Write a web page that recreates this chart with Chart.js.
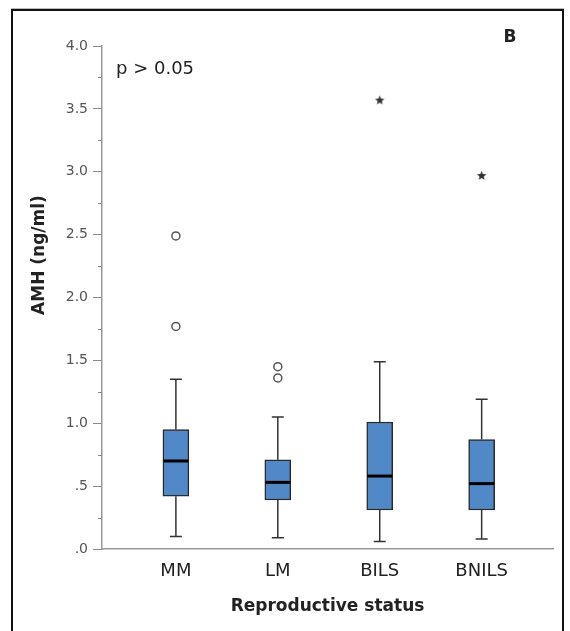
<!DOCTYPE html>
<html>
<head>
<meta charset="utf-8">
<script src="https://cdn.jsdelivr.net/npm/chart.js@4"></script>
<style>
  html, body { margin: 0; padding: 0; background: #fff; }
  #wrap { position: relative; width: 570px; height: 631px; overflow: hidden; }
  #frame {
    position: absolute; left: 11px; top: 9px; width: 549px; height: 660px;
    border: 2px solid #111; border-bottom: none;
    box-shadow: 0 -1px 0 #bbb;
    pointer-events: none;
  }
  canvas { position: absolute; left: 0; top: 0; }
</style>
</head>
<body>
<div id="wrap">
  <canvas id="chart" width="570" height="631"></canvas>
  <div id="frame"></div>
</div>
<script>
// AMH по группам репродуктивного статуса (ящики с усами)
const categories = ['MM', 'LM', 'BILS', 'BNILS'];
const q1 = [0.42, 0.39, 0.31, 0.31];
const medians = [0.70, 0.53, 0.58, 0.52];
const q3 = [0.95, 0.71, 1.01, 0.87];
const whiskerLow = [0.10, 0.09, 0.06, 0.08];
const whiskerHigh = [1.35, 1.05, 1.49, 1.19];
// выбросы (кружки) и крайние значения (звёздочки)
const outlierGroup = [1, 1, 2, 2];
const outlierValues = [2.49, 1.77, 1.45, 1.36];
const extremeGroup = [3, 4];
const extremeValues = [3.57, 2.97];
const yTickValues = [0, 0.5, 1, 1.5, 2, 2.5, 3, 3.5, 4];

const FONT = '"DejaVu Sans", "Open Sans", sans-serif';

// маленькая звёздочка для крайних значений
function makeStar() {
    const c = document.createElement('canvas');
    c.width = 11; c.height = 11;
    const g = c.getContext('2d');
    g.fillStyle = '#333';
    g.beginPath();
    for (let i = 0; i < 10; i++) {
        const r = i % 2 === 0 ? 5 : 2.2;
        const a = -Math.PI / 2 + i * Math.PI / 5;
        const px = 5.5 + r * Math.cos(a), py = 5.8 + r * Math.sin(a);
        if (i === 0) g.moveTo(px, py); else g.lineTo(px, py);
    }
    g.closePath();
    g.fill();
    return c;
}

function fmtTick(v) {
    if (v === 0) return '.0';
    if (v < 1) return '.5';
    return v.toFixed(1);
}

// усы, медианы, малые деления и подписи
const boxPlugin = {
    id: 'boxExtras',
    beforeDatasetsDraw(chart) {
        const { ctx, scales: { x, y } } = chart;
        ctx.save();
        ctx.strokeStyle = '#333';
        ctx.lineWidth = 1.5;
        categories.forEach((c, i) => {
            const cx = x.getPixelForValue(i + 1);
            const cap = 6;
            ctx.beginPath();
            ctx.moveTo(cx, y.getPixelForValue(q3[i]));
            ctx.lineTo(cx, y.getPixelForValue(whiskerHigh[i]));
            ctx.moveTo(cx - cap, y.getPixelForValue(whiskerHigh[i]));
            ctx.lineTo(cx + cap, y.getPixelForValue(whiskerHigh[i]));
            ctx.moveTo(cx, y.getPixelForValue(q1[i]));
            ctx.lineTo(cx, y.getPixelForValue(whiskerLow[i]));
            ctx.moveTo(cx - cap, y.getPixelForValue(whiskerLow[i]));
            ctx.lineTo(cx + cap, y.getPixelForValue(whiskerLow[i]));
            ctx.stroke();
        });
        ctx.restore();
    },
    afterDatasetsDraw(chart) {
        const { ctx, scales: { x, y } } = chart;
        ctx.save();
        // медианы
        ctx.strokeStyle = '#000';
        ctx.lineWidth = 3;
        categories.forEach((c, i) => {
            const cx = x.getPixelForValue(i + 1);
            const my = y.getPixelForValue(medians[i]);
            ctx.beginPath();
            ctx.moveTo(cx - 12.5, my);
            ctx.lineTo(cx + 12.5, my);
            ctx.stroke();
        });
        // малые деления оси Y
        ctx.strokeStyle = '#888';
        ctx.lineWidth = 1;
        for (let v = 0.25; v < 4; v += 0.5) {
            const py = Math.round(y.getPixelForValue(v)) + 0.5;
            ctx.beginPath();
            ctx.moveTo(y.right - 4, py);
            ctx.lineTo(y.right, py);
            ctx.stroke();
        }
        // подписи
        ctx.fillStyle = '#222';
        ctx.textBaseline = 'middle';
        ctx.font = '18px ' + FONT;
        ctx.textAlign = 'left';
        ctx.fillText('p > 0.05', 116, 69);
        ctx.font = 'bold 17px ' + FONT;
        ctx.textAlign = 'center';
        ctx.fillText('B', 510, 38);
        ctx.translate(40, 255);
        ctx.rotate(-Math.PI / 2);
        ctx.font = 'bold 17px ' + FONT;
        ctx.fillText('AMH (ng/ml)', 0, 0);
        ctx.restore();
    }
};

document.addEventListener('DOMContentLoaded', function() {
    const ctx = document.getElementById('chart').getContext('2d');
    new Chart(ctx, {
        type: 'bar',
        data: {
            datasets: [{
                type: 'bar',
                data: categories.map((c, i) => ({ x: i + 1, y: [q1[i], q3[i]] })),
                backgroundColor: '#5088c8',
                borderColor: '#2a2a2a',
                borderWidth: 1.5,
                borderSkipped: false,
                barThickness: 26
            }, {
                type: 'scatter',
                data: outlierValues.map((v, i) => ({ x: outlierGroup[i], y: v })),
                pointStyle: 'circle',
                pointRadius: 4,
                pointBackgroundColor: '#fff',
                pointBorderColor: '#555',
                pointBorderWidth: 1.5
            }, {
                type: 'scatter',
                data: extremeValues.map((v, i) => ({ x: extremeGroup[i], y: v })),
                pointStyle: makeStar(),
                pointRadius: 5
            }]
        },
        options: {
            responsive: false,
            animation: false,
            events: [],
            layout: { padding: { left: 0, right: 17, top: 46, bottom: 14 } },
            plugins: { legend: { display: false }, tooltip: { enabled: false } },
            scales: {
                x: {
                    type: 'linear',
                    offset: false,
                    min: 0.275,
                    max: 4.7,
                    afterBuildTicks: s => { s.ticks = categories.map((c, i) => ({ value: i + 1 })); },
                    ticks: {
                        callback: v => categories[v - 1],
                        color: '#222',
                        font: { family: FONT, size: 18 },
                        padding: 12,
                        autoSkip: false,
                        maxRotation: 0
                    },
                    grid: { display: false, drawTicks: false, offset: false },
                    border: { color: '#999', width: 1.5 },
                    title: {
                        display: true,
                        text: 'Reproductive status',
                        color: '#222',
                        font: { family: FONT, size: 17, weight: 'bold' },
                        padding: { top: 2, bottom: 0 }
                    }
                },
                y: {
                    min: 0,
                    max: 4,
                    afterBuildTicks: s => { s.ticks = yTickValues.map(v => ({ value: v })); },
                    afterFit: s => { s.width = 102; },
                    ticks: {
                        callback: v => fmtTick(v),
                        color: '#555',
                        font: { family: FONT, size: 14 },
                        padding: 5
                    },
                    grid: { drawOnChartArea: false, tickLength: 9, color: '#888', tickColor: '#888' },
                    border: { color: '#999', width: 1.5 }
                }
            }
        },
        plugins: [boxPlugin]
    });
});
</script>
</body>
</html>
